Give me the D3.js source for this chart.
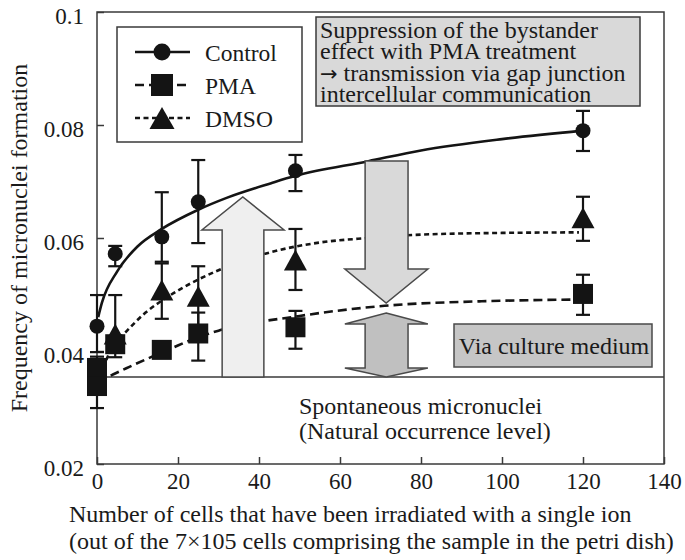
<!DOCTYPE html>
<html><head><meta charset="utf-8">
<script src="https://cdn.jsdelivr.net/npm/d3@7"></script>
<style>
html,body{margin:0;padding:0;background:#fff;}
text{font-family:"Liberation Serif","Times New Roman",serif;fill:#1a1a1a;}
</style></head>
<body>
<svg id="chart" width="685" height="560"></svg>
<script>
// ---------------- data ----------------
const xTickValues = [0, 20, 40, 60, 80, 100, 120, 140];
const yTickValues = [0.02, 0.04, 0.06, 0.08, 0.1];
const yTickLabels = ["0.02", "0.04", "0.06", "0.08", "0.1"];

const controlX  = [0, 4.5, 16, 25, 49, 120];
const controlY  = [0.0444, 0.0572, 0.0602, 0.0664, 0.0719, 0.0790];
const controlHi = [0.0499, 0.0586, 0.0681, 0.0738, 0.0747, 0.0825];
const controlLo = [0.0398, 0.0550, 0.0558, 0.0591, 0.0683, 0.0754];

const pmaX  = [0, 0, 4.5, 16, 25, 49, 120];
const pmaY  = [0.0370, 0.0338, 0.0412, 0.0402, 0.0431, 0.0442, 0.0501];
const pmaHi = [0.0390, 0.0338, 0.0412, 0.0402, 0.0468, 0.0471, 0.0535];
const pmaLo = [0.0370, 0.0299, 0.0412, 0.0402, 0.0383, 0.0404, 0.0464];

const dmsoX  = [4.5, 16, 25, 49, 120];
const dmsoY  = [0.0430, 0.0508, 0.0497, 0.0561, 0.0636];
const dmsoHi = [0.0499, 0.0555, 0.0550, 0.0616, 0.0673];
const dmsoLo = [0.0389, 0.0457, 0.0445, 0.0508, 0.0595];

// fitted curves
const controlFitX = [0.3, 1.2, 5, 10, 16, 25, 32, 43, 49, 67, 80, 100, 120];
const controlFitY = [0.0460, 0.0485, 0.0541, 0.0585, 0.0616, 0.0650, 0.0671, 0.0697, 0.0710, 0.0736, 0.0755, 0.0775, 0.0790];
const pmaFitX = [0.3, 2.7, 8, 13.6, 18.8, 22, 30, 50, 71, 95, 118];
const pmaFitY = [0.0345, 0.0354, 0.0372, 0.0390, 0.0406, 0.0416, 0.0436, 0.0462, 0.0480, 0.0488, 0.0491];
const dmsoFitX = [1.5, 4, 7, 12, 17.5, 30, 43, 55, 67, 80, 100, 119];
const dmsoFitY = [0.0370, 0.0410, 0.0433, 0.0468, 0.0496, 0.0543, 0.0575, 0.0592, 0.0600, 0.0606, 0.0609, 0.0610];

const spontaneousLevel = 0.0354;

const legendNames = ["Control", "PMA", "DMSO"];
const noteLines = ["Suppression of the bystander", "effect with PMA treatment",
                   "\u2192 transmission via gap junction", "intercellular communication"];
const mediumLabel = "Via culture medium";
const spontLines = ["Spontaneous micronuclei", "(Natural occurrence level)"];
const xTitleLines = ["Number of cells that have been irradiated with a single ion",
                     "(out of the 7\u00d7105 cells comprising the sample in the petri dish)"];
const yTitle = "Frequency of micronuclei formation";

// ---------------- layout ----------------
const svg = d3.select("#chart");
const L = 97, R = 664, T = 12, B = 464;
const x = d3.scaleLinear().domain([0, 140]).range([L, R]);
const y = d3.scaleLinear().domain([0.02, 0.1]).range([B, T]);
const ink = "#141414", frame = "#3a3a3a";
const FS = 23;

// ---------------- axes ----------------
const xAxis = svg.append("g").attr("transform", `translate(0,${B})`)
  .call(d3.axisBottom(x).tickValues(xTickValues).tickSize(-7).tickPadding(9).tickFormat(d3.format("d")));
const yAxis = svg.append("g").attr("transform", `translate(${L},0)`)
  .call(d3.axisLeft(y).tickValues(yTickValues).tickSize(-7).tickPadding(13)
        .tickFormat((d, i) => yTickLabels[i]));
[xAxis, yAxis].forEach(g => {
  g.select(".domain").remove();
  g.selectAll(".tick line").attr("stroke", frame).attr("stroke-width", 1.5);
  g.selectAll(".tick text").attr("font-family", "Liberation Serif").attr("font-size", FS).attr("fill", ink);
});
yAxis.selectAll(".tick text").attr("dy", "0.48em");
xAxis.selectAll(".tick text").attr("dy", "0.71em");

// frame
svg.append("rect").attr("x", L).attr("y", T).attr("width", R - L).attr("height", B - T)
  .attr("fill", "none").attr("stroke", frame).attr("stroke-width", 1.5);

// spontaneous level line
svg.append("line").attr("x1", L).attr("x2", R).attr("y1", y(spontaneousLevel)).attr("y2", y(spontaneousLevel))
  .attr("stroke", frame).attr("stroke-width", 1.5);

// ---------------- fitted curves ----------------
const line = d3.line().x(d => x(d[0])).y(d => y(d[1])).curve(d3.curveMonotoneX);
function fit(xs, ys, dash) {
  svg.append("path").datum(xs.map((v, i) => [v, ys[i]])).attr("d", line)
    .attr("fill", "none").attr("stroke", ink).attr("stroke-width", 2.6)
    .attr("stroke-dasharray", dash);
}
fit(controlFitX, controlFitY, null);
fit(pmaFitX, pmaFitY, "9,5");
fit(dmsoFitX, dmsoFitY, "5,3.5");

// ---------------- arrows (data coordinates) ----------------
function poly(pts, fill) {
  svg.append("path").attr("d", "M" + pts.map(p => `${x(p[0])},${y(p[1])}`).join("L") + "Z")
    .attr("fill", fill).attr("stroke", "#4a4a4a").attr("stroke-width", 1.5);
}
// up arrow
poly([[30.9, spontaneousLevel], [30.9, 0.06142], [25.9, 0.06142], [36.0, 0.06726],
      [46.2, 0.06142], [41.2, 0.06142], [41.2, spontaneousLevel]], "#efefef");
// down arrow
poly([[66.2, 0.07363], [76.8, 0.07363], [76.8, 0.05451], [81.7, 0.05451], [71.4, 0.0485],
      [61.2, 0.05451], [66.2, 0.05451]], "#d9d9d9");
// double arrow
poly([[71.4, 0.04673], [81.7, 0.04478], [76.8, 0.04478], [76.8, 0.03699], [81.7, 0.03699],
      [71.4, spontaneousLevel], [61.2, 0.03699], [66.2, 0.03699], [66.2, 0.04478], [61.2, 0.04478]], "#c0c0c0");

// ---------------- error bars + markers ----------------
function errorBars(xs, hi, lo) {
  const g = svg.append("g").attr("stroke", ink).attr("stroke-width", 2.2);
  xs.forEach((v, i) => {
    g.append("line").attr("x1", x(v)).attr("x2", x(v)).attr("y1", y(hi[i])).attr("y2", y(lo[i]));
    [hi[i], lo[i]].forEach(e => g.append("line").attr("x1", x(v) - 7).attr("x2", x(v) + 7)
      .attr("y1", y(e)).attr("y2", y(e)));
  });
}
errorBars(controlX, controlHi, controlLo);
errorBars(pmaX, pmaHi, pmaLo);
errorBars(dmsoX, dmsoHi, dmsoLo);

function circle(g, cx, cy, r) { g.append("circle").attr("cx", cx).attr("cy", cy).attr("r", r).attr("fill", ink); }
function square(g, cx, cy, s) { g.append("rect").attr("x", cx - s / 2).attr("y", cy - s / 2).attr("width", s).attr("height", s).attr("fill", ink); }
function tri(g, cx, cy, w, h) {
  g.append("path").attr("d", `M${cx},${cy - h / 2}L${cx + w / 2},${cy + h / 2}L${cx - w / 2},${cy + h / 2}Z`).attr("fill", ink);
}
const mk = svg.append("g");
controlX.forEach((v, i) => circle(mk, x(v), y(controlY[i]), 7.5));
pmaX.forEach((v, i) => square(mk, x(v), y(pmaY[i]), 20));
dmsoX.forEach((v, i) => tri(mk, x(v), y(dmsoY[i]), 23, 21));

// ---------------- legend ----------------
const lg = svg.append("g");
lg.append("rect").attr("x", 117).attr("y", 27).attr("width", 185).attr("height", 115)
  .attr("fill", "#fff").attr("stroke", frame).attr("stroke-width", 1.5);
const legY = [52, 85, 118];
const legDash = [null, "9,5", "5,3.5"];
legendNames.forEach((n, i) => {
  lg.append("line").attr("x1", 135).attr("x2", 190).attr("y1", legY[i]).attr("y2", legY[i])
    .attr("stroke", ink).attr("stroke-width", 2.6).attr("stroke-dasharray", legDash[i]);
  if (i === 0) circle(lg, 162, legY[i], 8.5);
  if (i === 1) square(lg, 162, legY[i], 22);
  if (i === 2) tri(lg, 162, legY[i], 25, 22);
  lg.append("text").attr("x", 205).attr("y", legY[i] + 9).attr("font-size", 23.5).text(n);
});

// ---------------- note boxes ----------------
svg.append("rect").attr("x", 316).attr("y", 17).attr("width", 324).attr("height", 89)
  .attr("fill", "#d9d9d9").attr("stroke", frame).attr("stroke-width", 1.5);
noteLines.forEach((t, i) => {
  const tx = svg.append("text").attr("x", 320).attr("y", 37.5 + i * 21.6).attr("font-size", 24);
  if (t.startsWith("\u2192")) {
    tx.append("tspan").attr("font-family", "DejaVu Sans").attr("font-size", 21).text("\u2192");
    tx.append("tspan").text(t.slice(1));
  } else tx.text(t);
});

svg.append("rect").attr("x", 454).attr("y", 324).attr("width", 198).attr("height", 43)
  .attr("fill", "#c6c6c6").attr("stroke", "#4a4a4a").attr("stroke-width", 1.5);
svg.append("text").attr("x", 554).attr("y", 354).attr("text-anchor", "middle").attr("font-size", 24).text(mediumLabel);

spontLines.forEach((t, i) => svg.append("text").attr("x", 299).attr("y", 414 + i * 25)
  .attr("font-size", 24).text(t));

// ---------------- titles ----------------
xTitleLines.forEach((t, i) => svg.append("text").attr("x", 69).attr("y", 522 + i * 27)
  .attr("font-size", 24).text(t));
svg.append("text").attr("transform", `translate(27,${(T + B) / 2}) rotate(-90)`)
  .attr("text-anchor", "middle").attr("font-size", 24).text(yTitle);
</script>
</body></html>
